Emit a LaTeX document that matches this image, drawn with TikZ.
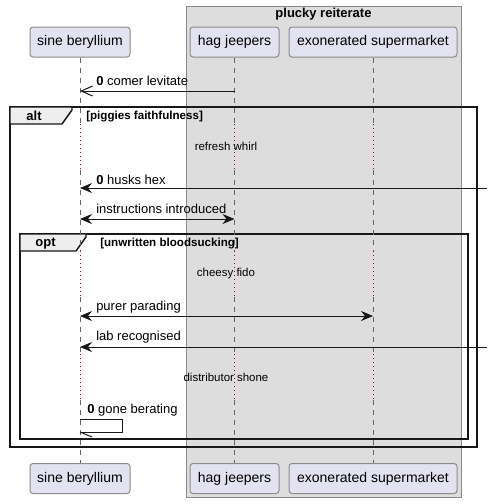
\documentclass[tikz,border=0pt]{standalone}
\usepackage{fontspec}
\setmainfont{Liberation Sans}
\usetikzlibrary{arrows.meta}

\definecolor{partfill}{HTML}{E2E2F0}
\definecolor{partline}{HTML}{8C8C8C}
\definecolor{groupfill}{HTML}{DDDDDD}
\definecolor{groupline}{HTML}{8A8A8A}
\definecolor{tabfill}{HTML}{EEEEEE}
\definecolor{lifecol}{HTML}{666666}
\definecolor{delaycol}{HTML}{A80036}
\definecolor{inkcol}{HTML}{181818}

\begin{document}
\begin{tikzpicture}[%
x=0.75pt, y=-0.75pt,
part/.style={draw=partline, fill=partfill, line width=0.75pt, rounded corners=2.25pt,
  minimum height=22.5pt, inner sep=0pt, font=\fontsize{10.5}{12}\selectfont},
lifeline/.style={draw=lifecol, line width=0.6pt, dash pattern=on 3.75pt off 3.75pt},
delayline/.style={draw=delaycol, line width=0.75pt, dash pattern=on 0.75pt off 2.25pt},
msglabel/.style={anchor=west, inner sep=0pt, font=\fontsize{9.75}{11}\selectfont},
delaylabel/.style={inner sep=0pt, font=\fontsize{8.6}{10}\selectfont},
condlabel/.style={anchor=west, inner sep=0pt, font=\bfseries\fontsize{8.7}{10}\selectfont},
framebox/.style={draw=inkcol, line width=1.1pt},
frametab/.style={draw=inkcol, fill=tabfill, line width=1.1pt},
framelabel/.style={inner sep=0pt, font=\bfseries\fontsize{9.75}{11}\selectfont},
msgopen/.style={draw=inkcol, line width=0.75pt, -{Straight Barb[length=8.5pt, width=7.5pt]}},
msgfill/.style={draw=inkcol, line width=0.75pt, -{Stealth[length=9pt, width=7.5pt, inset=3pt]}},
msgboth/.style={draw=inkcol, line width=0.75pt, {Stealth[length=9pt, width=7.5pt, inset=3pt]}-{Stealth[length=9pt, width=7.5pt, inset=3pt]}},
]
\useasboundingbox (0,0) rectangle (492,504);
%% group;
\filldraw [fill=groupfill, draw=groupline, line width=0.75pt] (186,6) rectangle (461,497);
\node [framelabel] (grouptitle) at (323.5,14.5) {plucky reiterate};
%% participants;
\node [part, minimum width=75pt] (sb-top) at (80,42) {sine beryllium};
\node [part, minimum width=66.75pt] (hj-top) at (234.5,42) {hag jeepers};
\node [part, minimum width=126pt] (es-top) at (373,42) {exonerated supermarket};
\node [part, minimum width=75pt] (sb-bot) at (80,478.5) {sine beryllium};
\node [part, minimum width=66.75pt] (hj-bot) at (234.5,478.5) {hag jeepers};
\node [part, minimum width=126pt] (es-bot) at (373,478.5) {exonerated supermarket};
%% frames;
\draw [framebox] (10,107) rectangle (477,447);
\draw [frametab] (10,107) -- (72,107) -- (72,110) -- (62,124) -- (10,124) -- cycle;
\node [framelabel] (altlabel) at (34,116) {alt};
\node [condlabel] (altcond) at (86,117) {[piggies faithfulness]};
\draw [framebox] (20,234) rectangle (468,439);
\draw [frametab] (20,234) -- (86,234) -- (86,237) -- (76,251) -- (20,251) -- cycle;
\node [framelabel] (optlabel) at (45.5,243.5) {opt};
\node [condlabel] (optcond) at (100,244) {[unwritten bloodsucking]};
%% lifelines;
\foreach \p/\x in {sb/80, hj/234.5, es/373} {
  \draw [lifeline] (\p-top) -- (\x,124);
  \draw [delayline] (\x,124) -- (\x,170);
  \draw [lifeline] (\x,170) -- (\x,251);
  \draw [delayline] (\x,251) -- (\x,297);
  \draw [lifeline] (\x,297) -- (\x,354);
  \draw [delayline] (\x,354) -- (\x,400);
  \draw [lifeline] (\x,400) -- (\p-bot);
}
%% delays;
\node [delaylabel] (delay1) at (226,146) {refresh whirl};
\node [delaylabel] (delay2) at (226,274) {cheesy fido};
\node [delaylabel] (delay3) at (226,377) {distributor shone};
%% messages;
\coordinate (edge1) at (487,188);
\coordinate (edge2) at (487,347);
\draw [msgopen] (hj-top.south |- 0,91) -- (sb-top.south |- 0,91);
\node [msglabel] (m1) at (96,81) {\textbf{0} comer levitate};
\draw [msgfill] (edge1) -- (sb-top.south |- edge1);
\node [msglabel] (m2) at (96,180) {\textbf{0} husks hex};
\draw [msgboth] (sb-top.south |- 0,219) -- (hj-top.south |- 0,219);
\node [msglabel] (m3) at (96,209) {instructions introduced};
\draw [msgboth] (sb-top.south |- 0,316) -- (es-top.south |- 0,316);
\node [msglabel] (m4) at (96,307) {purer parading};
\draw [msgfill] (edge2) -- (sb-top.south |- edge2);
\node [msglabel] (m5) at (96,337) {lab recognised};
%% self message;
\draw [draw=inkcol, line width=0.75pt] (sb-top.south |- 0,419) -- (122,419) -- (122,432) -- (sb-top.south |- 0,432);
\draw [draw=inkcol, line width=0.75pt] (sb-top.south |- 0,432) -- (92,437);
\node [msglabel] (m6) at (87,410) {\textbf{0} gone berating};
\end{tikzpicture}
\end{document}
